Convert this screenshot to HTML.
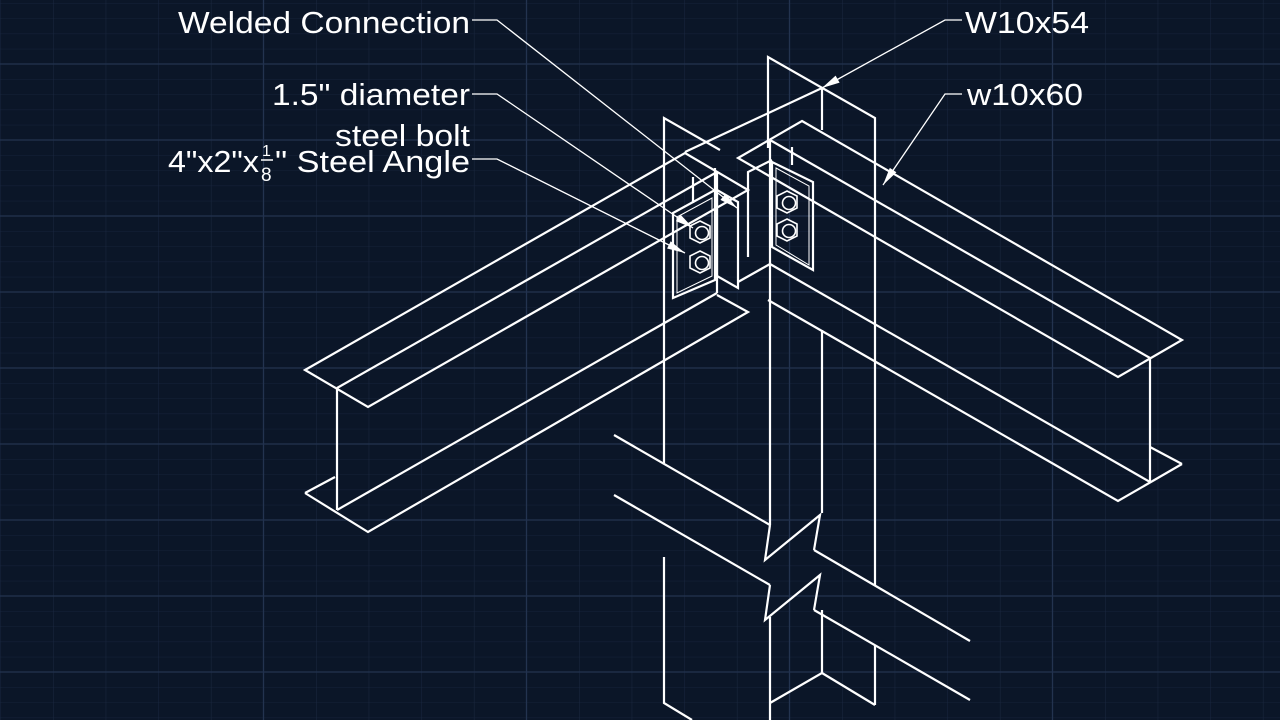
<!DOCTYPE html>
<html><head><meta charset="utf-8"><style>
html,body{margin:0;padding:0;background:#0b1628;}
svg{display:block}
text{font-family:"Liberation Sans",Arial,sans-serif;fill:#fff;font-size:31px}
</style></head><body>
<svg width="1280" height="720" viewBox="0 0 1280 720" xmlns="http://www.w3.org/2000/svg">
<defs>
<pattern id="gv" x="0.5" y="0" width="52.6" height="720" patternUnits="userSpaceOnUse"><line x1="0" y1="0" x2="0" y2="720" stroke="#1a2740" stroke-width="1"/></pattern>
<pattern id="gh" x="0" y="3.2" width="1280" height="15.2" patternUnits="userSpaceOnUse"><line x1="0" y1="0" x2="1280" y2="0" stroke="#16233a" stroke-width="1"/></pattern>
</defs>
<rect width="1280" height="720" fill="#0b1628"/>
<rect width="1280" height="720" fill="url(#gh)"/>
<rect width="1280" height="720" fill="url(#gv)"/>
<g stroke="#23334f" stroke-width="1.3">
<line x1="263.5" y1="0" x2="263.5" y2="720"/><line x1="526.5" y1="0" x2="526.5" y2="720"/><line x1="789.5" y1="0" x2="789.5" y2="720"/><line x1="1052.5" y1="0" x2="1052.5" y2="720"/>
<line x1="0" y1="64" x2="1280" y2="64"/><line x1="0" y1="140" x2="1280" y2="140"/><line x1="0" y1="216" x2="1280" y2="216"/><line x1="0" y1="292" x2="1280" y2="292"/><line x1="0" y1="368" x2="1280" y2="368"/><line x1="0" y1="444" x2="1280" y2="444"/><line x1="0" y1="520" x2="1280" y2="520"/><line x1="0" y1="596" x2="1280" y2="596"/><line x1="0" y1="672" x2="1280" y2="672"/>
</g>

<g stroke="#fff" stroke-width="2.2" fill="none" stroke-linejoin="miter">
<!-- column -->
<polyline points="664,463 664,118 720,150"/>
<polyline points="664,557 664,703 692,720"/>
<polyline points="768,148 768,57 875,118 875,585"/>
<line x1="875" y1="645" x2="875" y2="705"/>
<line x1="770" y1="140" x2="770" y2="525"/>
<line x1="770" y1="617" x2="770" y2="720"/>
<line x1="822" y1="88" x2="822" y2="130"/>
<line x1="822" y1="330" x2="822" y2="513"/>
<polyline points="822,610 822,673 770,703"/>
<line x1="822" y1="673" x2="875" y2="705"/>
<line x1="614" y1="435" x2="770" y2="525"/>
<line x1="614" y1="495" x2="770" y2="585"/>
<line x1="814" y1="550" x2="970" y2="641"/>
<line x1="814" y1="610" x2="970" y2="700"/>
<polyline points="770,525 765,560 820,515 814,550"/>
<polyline points="770,585 765,620 820,575 814,610"/>

<!-- left beam -->
<polygon points="305,370 685,153 748,190 368,407"/>
<line x1="685" y1="152" x2="822" y2="88"/>
<line x1="337" y1="388" x2="717" y2="172"/>
<line x1="337" y1="388" x2="337" y2="510"/>
<line x1="717" y1="172" x2="717" y2="293"/>
<polyline points="305,493 368,532 748,312 717,295"/>
<line x1="305" y1="493" x2="335" y2="477"/>
<line x1="337" y1="510" x2="717" y2="293"/>

<!-- right beam -->
<polygon points="802,121 1182,340 1118,377 738,158"/>
<line x1="770" y1="140" x2="1150" y2="358"/>
<line x1="1150" y1="358" x2="1150" y2="482"/>
<polyline points="1182,464 1118,501 768,300"/>
<line x1="1150" y1="447" x2="1182" y2="464"/>
<line x1="770" y1="264" x2="1150" y2="482"/>
<line x1="738" y1="282" x2="770" y2="264"/>

<!-- left angle -->
<polygon points="673,213 715,190 715,280 673,298"/>
<polygon points="677,217 712,198 712,276 677,293" stroke-width="1"/>
<polygon points="717,190 738,202 738,288 717,276"/>
<line x1="693" y1="177" x2="693" y2="203"/>
<line x1="715" y1="168" x2="715" y2="190"/>
<!-- right angle -->
<polyline points="748,257 748,172 772,160"/>
<polygon points="772,162 813,182 813,270 772,247"/>
<polygon points="776,168 809,186 809,265 776,245" stroke-width="1"/>
<line x1="792" y1="147" x2="792" y2="165"/>
</g>

<!-- bolts -->
<g stroke="#fff" stroke-width="1.6" fill="#0b1628">
<polygon points="700,221 710,226 710,238 700,243 690,238 690,226"/><circle cx="702" cy="233" r="6.5"/>
<polygon points="700,251 710,256 710,268 700,273 690,268 690,256"/><circle cx="702" cy="263" r="6.5"/>
<polygon points="787,191 797,196 797,208 787,213 777,208 777,196"/><circle cx="789" cy="203" r="6.5"/>
<polygon points="787,219 797,224 797,236 787,241 777,236 777,224"/><circle cx="789" cy="231" r="6.5"/>
</g>

<!-- leaders -->
<g stroke="#fff" stroke-width="1.3" fill="none">
<polyline points="472,20 497,20 737,208"/>
<polyline points="472,94 497,94 693,228"/>
<polyline points="472,159 497,159 685,253"/>
<polyline points="962,20 945,20 822,88"/>
<polyline points="962,94 945,94 883,185"/>
</g>
<g fill="#fff">
<polygon points="737,208 720.4,199.9 725.4,193.7"/>
<polygon points="693,228 675.8,221.1 680.4,214.5"/>
<polygon points="685,253 667.1,248.5 670.7,241.3"/>
<polygon points="822,88 835.6,75.6 839.6,82.6"/>
<polygon points="883,185 889.8,167.9 896.4,172.3"/>
</g>

<text x="470" y="33" text-anchor="end" textLength="292" lengthAdjust="spacingAndGlyphs">Welded Connection</text>
<text x="470" y="105" text-anchor="end" textLength="198" lengthAdjust="spacingAndGlyphs">1.5" diameter</text>
<text x="470" y="146" text-anchor="end" textLength="135" lengthAdjust="spacingAndGlyphs">steel bolt</text>
<text x="168" y="172" textLength="91" lengthAdjust="spacingAndGlyphs">4"x2"x</text>
<text x="262" y="156" style="font-size:16px">1</text>
<line x1="261" y1="160" x2="273" y2="160" stroke="#fff" stroke-width="1.5"/>
<text x="261" y="181" style="font-size:19px">8</text>
<text x="275" y="172" textLength="195" lengthAdjust="spacingAndGlyphs">" Steel Angle</text>
<text x="965" y="33" textLength="124" lengthAdjust="spacingAndGlyphs">W10x54</text>
<text x="967" y="105" textLength="116" lengthAdjust="spacingAndGlyphs">w10x60</text>
</svg>
</body></html>
